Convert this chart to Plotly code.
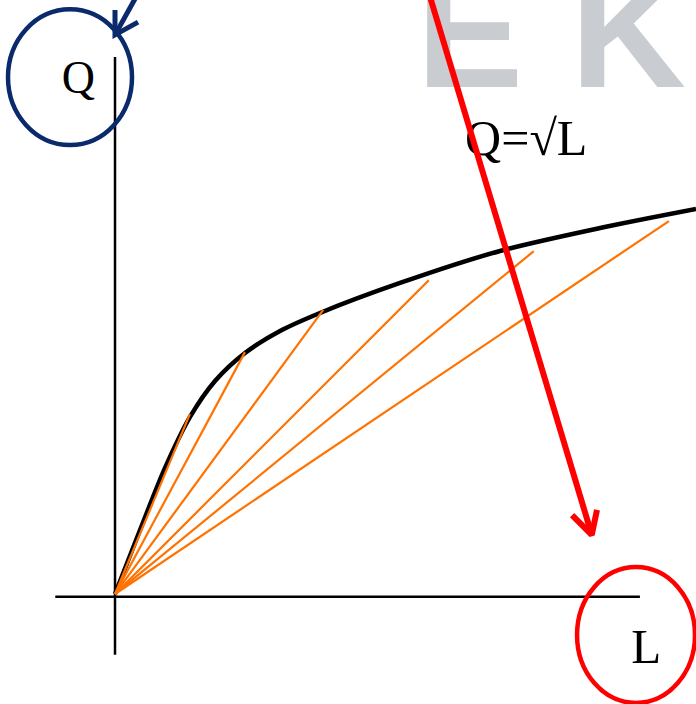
import plotly.graph_objects as go

# Production function curve Q = sqrt(L) (diagram units)
curve_L = [0, 0.431, 0.862, 1.293, 1.724, 2.241, 2.845, 3.534, 4.914, 6.638, 8.362, 10.017]
curve_Q = [0, 1.103, 2.172, 3.052, 3.672, 4.155, 4.534, 4.845, 5.362, 5.914, 6.310, 6.638]

# Rays from the origin (average product lines): end points
ray_L = [1.29, 2.24, 3.59, 5.41, 7.22, 9.55]
ray_Q = [3.10, 4.17, 4.90, 5.41, 5.91, 6.43]

# Axis labels and formula
label_Q = "Q"
label_L = "L"
formula = "Q=√L"
watermark = ["E", "K"]

X_RANGE = [-1.983, 10.017]
Y_RANGE = [-1.897, 10.241]

fig = go.Figure()

wm_font = dict(family="Liberation Sans", size=160, color="#c9ccd1", weight="bold")
# watermark (behind everything)
fig.add_trace(go.Scatter(x=[6.12], y=[9.43], mode="text", text=[watermark[0]],
                         textposition="middle center", textfont=wm_font,
                         hoverinfo="skip", showlegend=False, cliponaxis=False))
fig.add_trace(go.Scatter(x=[8.85], y=[9.43], mode="text", text=[watermark[1]],
                         textposition="middle center", textfont=wm_font,
                         hoverinfo="skip", showlegend=False, cliponaxis=False))

# texts
serif = "Liberation Serif"
fig.add_trace(go.Scatter(x=[-0.63], y=[8.83], mode="text", text=[label_Q],
                         textfont=dict(family=serif, size=46, color="black"),
                         hoverinfo="skip", showlegend=False))
fig.add_trace(go.Scatter(x=[9.16], y=[-0.98], mode="text", text=[label_L],
                         textfont=dict(family=serif, size=49, color="black"),
                         hoverinfo="skip", showlegend=False))
fig.add_trace(go.Scatter(x=[7.09], y=[7.78], mode="text", text=[formula],
                         textfont=dict(family=serif, size=50, color="black"),
                         hoverinfo="skip", showlegend=False))

# axes
fig.add_trace(go.Scatter(x=[0, 0], y=[9.26, -1.05], mode="lines",
                         line=dict(color="black", width=2.5), hoverinfo="skip", showlegend=False))
fig.add_trace(go.Scatter(x=[-1.03, 9.05], y=[-0.05, -0.05], mode="lines",
                         line=dict(color="black", width=2.5), hoverinfo="skip", showlegend=False))

# curve
fig.add_trace(go.Scatter(x=curve_L, y=curve_Q, mode="lines",
                         line=dict(color="black", width=4.5, shape="spline", smoothing=0.8),
                         hoverinfo="skip", showlegend=False))

# rays
for l, q in zip(ray_L, ray_Q):
    fig.add_trace(go.Scatter(x=[0, l], y=[0, q], mode="lines", line=dict(color="#ff7200", width=2.2),
                             hoverinfo="skip", showlegend=False))

# red arrow
fig.add_trace(go.Scatter(x=[5.43, 8.22], y=[10.3, 1.02], mode="lines", line=dict(color="#ff0000", width=6),
                         hoverinfo="skip", showlegend=False))
fig.add_trace(go.Scatter(x=[7.88, 8.22, 8.31], y=[1.36, 1.02, 1.45], mode="lines",
                         line=dict(color="#ff0000", width=6), hoverinfo="skip", showlegend=False))

# navy arrow
fig.add_trace(go.Scatter(x=[0.40, 0.0], y=[10.36, 9.64], mode="lines", line=dict(color="#0b2a6b", width=5),
                         hoverinfo="skip", showlegend=False, cliponaxis=False))
fig.add_trace(go.Scatter(x=[0.0, 0.0, 0.397], y=[10.07, 9.64, 9.86], mode="lines",
                         line=dict(color="#0b2a6b", width=5), hoverinfo="skip", showlegend=False))

# circles
fig.add_shape(type="circle", xref="x", yref="y", x0=-1.845, x1=0.293, y0=7.74, y1=10.08,
              line=dict(color="#0b2a6b", width=4.5))
fig.add_shape(type="circle", xref="x", yref="y", x0=7.966, x1=10.0, y0=-1.879, y1=0.465,
              line=dict(color="#ff0000", width=4.5))

fig.update_layout(
    width=696, height=704,
    margin=dict(l=0, r=0, t=0, b=0),
    paper_bgcolor="white", plot_bgcolor="white",
    xaxis=dict(range=X_RANGE, visible=False, fixedrange=True),
    yaxis=dict(range=Y_RANGE, visible=False, fixedrange=True),
    showlegend=False,
    hovermode=False,
)
fig.write_html("out.html", config={"displayModeBar": False, "staticPlot": True},
               post_script="document.body.style.margin='0';document.body.style.overflow='hidden';")
